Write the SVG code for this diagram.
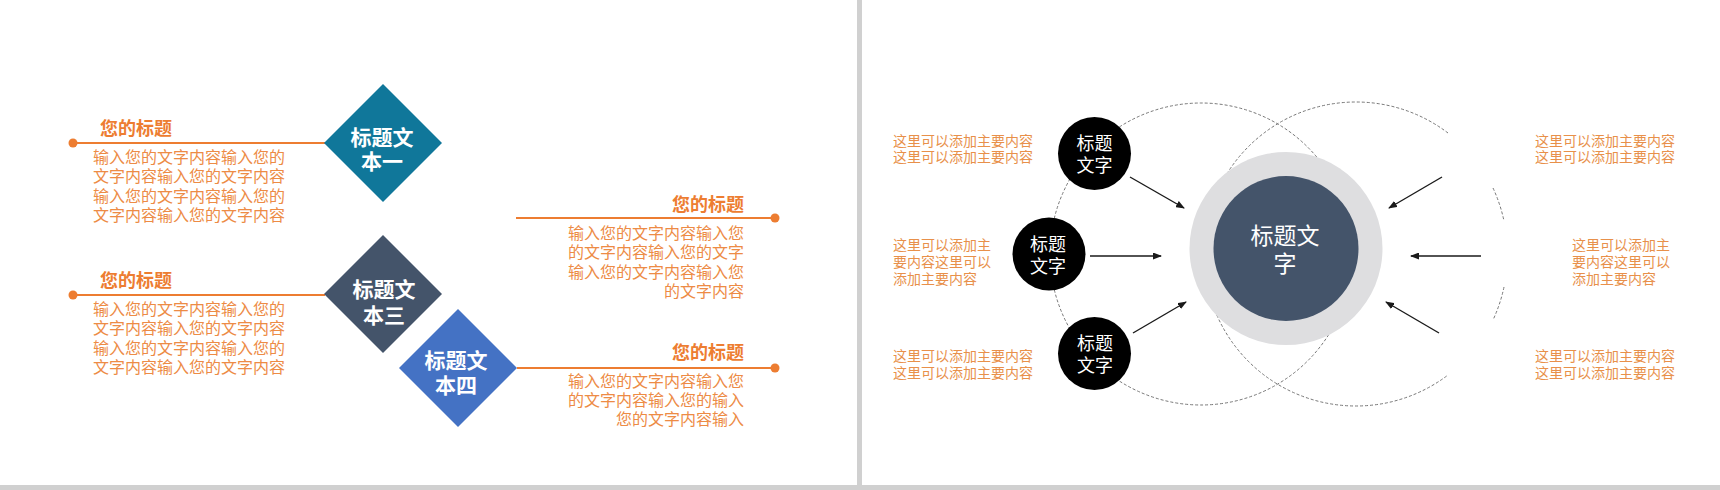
<svg xmlns="http://www.w3.org/2000/svg" width="1720" height="490" viewBox="0 0 1720 490">
  <style>
    text { font-family: "Liberation Sans", "Noto Sans CJK SC", sans-serif; }
    .ttl { font-size: 18px; font-weight: bold; fill: #ED7D31; }
    .body { font-size: 16px; fill: #ED8B45; }
    .dia { font-size: 21px; font-weight: bold; fill: #FFFFFF; text-anchor: middle; }
    .nodet { font-size: 18px; fill: #FFFFFF; text-anchor: middle; }
    .note { font-size: 14px; fill: #E8904A; }
    .oline { stroke: #ED7D31; stroke-width: 2; fill: none; }
    .dot { fill: #ED7D31; }
    .dash { stroke: #777777; stroke-width: 1; fill: none; stroke-dasharray: 3 2; }
    .arr { stroke: #1A1A1A; stroke-width: 1.4; fill: none; marker-end: url(#ah); }
    .r { text-anchor: end; }
  </style>
  <defs>
    <marker id="ah" markerUnits="userSpaceOnUse" markerWidth="9" markerHeight="7" refX="8" refY="3.5" orient="auto">
      <path d="M0,0 L9,3.5 L0,7 z" fill="#1A1A1A"/>
    </marker>
  </defs>

  <rect x="0" y="0" width="1720" height="490" fill="#FFFFFF"/>
  <!-- separators -->
  <rect x="857" y="0" width="5" height="485" fill="#D0D0D0"/>
  <rect x="0" y="485" width="1720" height="5" fill="#D0D0D0"/>

  <!-- LEFT PANEL -->
  <g id="connectors-left">
    <line class="oline" x1="73" y1="143" x2="325" y2="143"/>
    <circle class="dot" cx="73" cy="143" r="4.5"/>
    <line class="oline" x1="73" y1="295" x2="325" y2="295"/>
    <circle class="dot" cx="73" cy="295" r="4.5"/>
    <line class="oline" x1="516" y1="218" x2="775" y2="218"/>
    <circle class="dot" cx="775" cy="218" r="4.5"/>
    <line class="oline" x1="517" y1="368" x2="775" y2="368"/>
    <circle class="dot" cx="775" cy="368" r="4.5"/>
  </g>

  <g id="diamond1">
    <polygon points="383,84 442,143 383,202 324,143" fill="#10779A"/>
    <text class="dia" x="382" y="145">标题文</text>
    <text class="dia" x="382" y="169">本一</text>
  </g>
  <g id="diamond3">
    <polygon points="383,235 442,294 383,353 324,294" fill="#44546A"/>
    <text class="dia" x="384" y="297">标题文</text>
    <text class="dia" x="384" y="323">本三</text>
  </g>
  <g id="diamond4">
    <polygon points="458,309 517,368 458,427 399,368" fill="#4472C4"/>
    <text class="dia" x="456" y="368">标题文</text>
    <text class="dia" x="456" y="393">本四</text>
  </g>

  <g id="block-left1">
    <text class="ttl" x="100" y="135">您的标题</text>
    <text class="body" x="93" y="163">输入您的文字内容输入您的</text>
    <text class="body" x="93" y="182">文字内容输入您的文字内容</text>
    <text class="body" x="93" y="202">输入您的文字内容输入您的</text>
    <text class="body" x="93" y="221">文字内容输入您的文字内容</text>
  </g>
  <g id="block-left2">
    <text class="ttl" x="100" y="287">您的标题</text>
    <text class="body" x="93" y="315">输入您的文字内容输入您的</text>
    <text class="body" x="93" y="334">文字内容输入您的文字内容</text>
    <text class="body" x="93" y="354">输入您的文字内容输入您的</text>
    <text class="body" x="93" y="373">文字内容输入您的文字内容</text>
  </g>
  <g id="block-right1">
    <text class="ttl r" x="744" y="211">您的标题</text>
    <text class="body r" x="744" y="239">输入您的文字内容输入您</text>
    <text class="body r" x="744" y="258">的文字内容输入您的文字</text>
    <text class="body r" x="744" y="278">输入您的文字内容输入您</text>
    <text class="body r" x="744" y="297">的文字内容</text>
  </g>
  <g id="block-right2">
    <text class="ttl r" x="744" y="359">您的标题</text>
    <text class="body r" x="744" y="387">输入您的文字内容输入您</text>
    <text class="body r" x="744" y="406">的文字内容输入您的输入</text>
    <text class="body r" x="744" y="425">您的文字内容输入</text>
  </g>

  <!-- RIGHT PANEL -->
  <g id="dashed-rings">
    <circle class="dash" cx="1201" cy="254" r="151"/>
    <path class="dash" d="M1448,133 A152,152 0 1 0 1448,375"/>
    <path class="dash" d="M1493,188 A152,152 0 0 1 1504,221"/>
    <path class="dash" d="M1504,287 A152,152 0 0 1 1493,320"/>
  </g>

  <g id="center">
    <circle cx="1286" cy="248.5" r="96.5" fill="#DEDEE0"/>
    <circle cx="1286" cy="248.5" r="72.5" fill="#44546A"/>
    <text x="1285" y="244" font-size="23" fill="#FFFFFF" text-anchor="middle">标题文</text>
    <text x="1285" y="272" font-size="23" fill="#FFFFFF" text-anchor="middle">字</text>
  </g>

  <g id="node-top">
    <circle cx="1094.5" cy="153.5" r="36.5" fill="#000000"/>
    <text class="nodet" x="1094.5" y="150">标题</text>
    <text class="nodet" x="1094.5" y="172">文字</text>
  </g>
  <g id="node-mid">
    <circle cx="1049" cy="254" r="36.5" fill="#000000"/>
    <text class="nodet" x="1048" y="250.5">标题</text>
    <text class="nodet" x="1048" y="272.5">文字</text>
  </g>
  <g id="node-bottom">
    <circle cx="1094.5" cy="353.5" r="36.5" fill="#000000"/>
    <text class="nodet" x="1095" y="350">标题</text>
    <text class="nodet" x="1095" y="372">文字</text>
  </g>

  <g id="connectors">
    <line class="arr" x1="1130" y1="177" x2="1184" y2="208"/>
    <line class="arr" x1="1090" y1="256" x2="1161" y2="256"/>
    <line class="arr" x1="1133" y1="333" x2="1186" y2="302"/>
    <line class="arr" x1="1442" y1="177" x2="1389" y2="208"/>
    <line class="arr" x1="1481" y1="256" x2="1411" y2="256"/>
    <line class="arr" x1="1439" y1="333" x2="1386" y2="302"/>
  </g>

  <g id="notes-left">
    <text class="note" x="893" y="145.5">这里可以添加主要内容</text>
    <text class="note" x="893" y="162">这里可以添加主要内容</text>
    <text class="note" x="893" y="249.5">这里可以添加主</text>
    <text class="note" x="893" y="266.5">要内容这里可以</text>
    <text class="note" x="893" y="283.5">添加主要内容</text>
    <text class="note" x="893" y="360.5">这里可以添加主要内容</text>
    <text class="note" x="893" y="377.5">这里可以添加主要内容</text>
  </g>
  <g id="notes-right">
    <text class="note" x="1535" y="145.5">这里可以添加主要内容</text>
    <text class="note" x="1535" y="162">这里可以添加主要内容</text>
    <text class="note" x="1572" y="249.5">这里可以添加主</text>
    <text class="note" x="1572" y="266.5">要内容这里可以</text>
    <text class="note" x="1572" y="283.5">添加主要内容</text>
    <text class="note" x="1535" y="360.5">这里可以添加主要内容</text>
    <text class="note" x="1535" y="377.5">这里可以添加主要内容</text>
  </g>
</svg>
